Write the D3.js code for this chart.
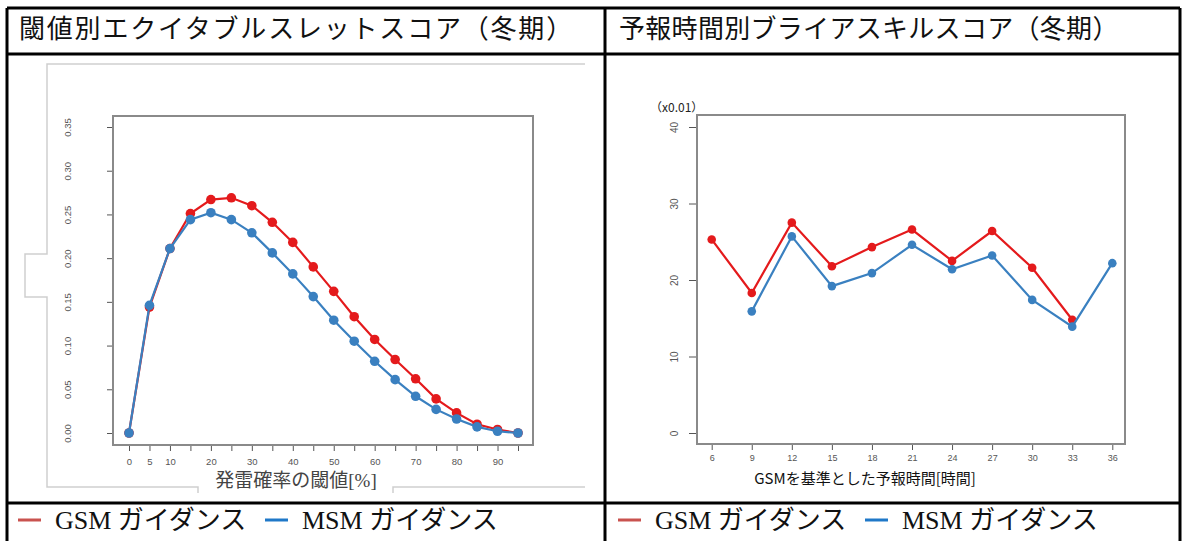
<!DOCTYPE html>
<html>
<head>
<meta charset="utf-8">
<script src="https://cdn.jsdelivr.net/npm/d3@7"></script>
<style>
  body { margin: 0; background: #fff; }
  svg { display: block; }
  .tick line { stroke: #555; }
  .tick text { fill: #555; font-family: "Liberation Sans", Arial, sans-serif; }
</style>
</head>
<body>
<svg id="chart"></svg>
<script>
// ---- data ----
const panelTitles = ['閾値別エクイタブルスレットスコア（冬期）', '予報時間別ブライアスキルスコア（冬期）'];
const seriesNames = ['GSM ガイダンス', 'MSM ガイダンス'];

const thresholds = [0, 5, 10, 15, 20, 25, 30, 35, 40, 45, 50, 55, 60, 65, 70, 75, 80, 85, 90, 95];
const etsGSM = [0, 0.144, 0.211, 0.251, 0.267, 0.269, 0.260, 0.241, 0.218, 0.190, 0.162, 0.133, 0.107, 0.084, 0.062, 0.039, 0.023, 0.010, 0.004, 0.0];
const etsMSM = [0, 0.146, 0.211, 0.244, 0.252, 0.244, 0.229, 0.206, 0.182, 0.156, 0.129, 0.105, 0.082, 0.061, 0.042, 0.027, 0.016, 0.007, 0.002, 0.0];
const leftYTicks = [0, 0.05, 0.10, 0.15, 0.20, 0.25, 0.30, 0.35];
const leftXLabels = [0, 5, 10, 20, 30, 40, 50, 60, 70, 80, 90];
const leftXTitle = '発雷確率の閾値[%]';

const leadTimes = [6, 9, 12, 15, 18, 21, 24, 27, 30, 33, 36];
const bssGSM = [25.3, 18.3, 27.5, 21.8, 24.3, 26.6, 22.5, 26.4, 21.6, 14.8, null];
const bssMSM = [null, 15.9, 25.7, 19.2, 20.9, 24.6, 21.4, 23.2, 17.4, 13.9, 22.2];
const rightYTicks = [0, 10, 20, 30, 40];
const rightXTitle = 'GSMを基準とした予報時間[時間]';
const rightUnit = '（x0.01）';

const colors = ['#e41a1c', '#3a80c0'];

// ---- setup ----
const W = 1183, H = 541;
const svg = d3.select('#chart').attr('width', W).attr('height', H);
svg.append('rect').attr('width', W).attr('height', H).attr('fill', '#fff');

const serif = '"Liberation Serif", "Times New Roman", "Noto Sans CJK JP", serif';
const cjk = '"Noto Sans CJK JP", sans-serif';

// table frame
const frame = svg.append('g').attr('stroke', '#000').attr('stroke-width', 3).attr('fill', 'none');
[[7, 8, 1180, 8], [7, 54, 1180, 54], [7, 503, 1180, 503],
 [7, 8, 7, 541], [605, 8, 605, 541], [1180, 8, 1180, 541]].forEach(l => {
    frame.append('line').attr('x1', l[0]).attr('y1', l[1]).attr('x2', l[2]).attr('y2', l[3]);
});

// panel titles
svg.selectAll('text.title')
    .data(panelTitles)
    .enter()
    .append('text')
    .attr('class', 'title')
    .attr('x', (d, i) => i === 0 ? 19 : 619)
    .attr('y', 38)
    .style('font-family', serif)
    .style('font-size', '26px')
    .style('letter-spacing', (d, i) => i === 0 ? '1.8px' : '0.3px')
    .attr('fill', '#111')
    .text(d => d);

// legends
[6, 606].forEach(ox => {
    seriesNames.forEach((name, i) => {
        const lx = ox + (i === 0 ? 12 : 259);
        svg.append('line')
            .attr('x1', lx).attr('x2', lx + 23)
            .attr('y1', 520).attr('y2', 520)
            .attr('stroke', i === 0 ? '#c9524f' : '#1f78c8')
            .attr('stroke-width', 3);
        svg.append('text')
            .attr('x', lx + 37).attr('y', 529)
            .style('font-family', serif)
            .style('font-size', '26px')
            .attr('fill', '#111')
            .text(name);
    });
});

// ---- left chart ----
{
    // faint outline of the pasted image
    svg.append('path')
        .attr('d', 'M585,64 H47 V254 H25 V297 H47 V487 H198 V493 M393,493 V487 H585')
        .attr('fill', 'none').attr('stroke', '#cfcfcf').attr('stroke-width', 1.5);

    const x = d3.scaleLinear().domain([0, 95]).range([129, 518]);
    const y = d3.scaleLinear().domain([0, 0.35]).range([433, 127]);
    const box = {x0: 113, x1: 533, y0: 116, y1: 445};

    const yAxis = d3.axisLeft(y).tickValues(leftYTicks).tickSize(6).tickFormat(d3.format('.2f'));
    const yg = svg.append('g').attr('transform', `translate(${box.x0},0)`).call(yAxis);
    yg.select('.domain').remove();
    yg.selectAll('.tick text')
        .attr('x', null).attr('dy', null)
        .attr('transform', 'translate(-45,0) rotate(-90)')
        .attr('text-anchor', 'middle')
        .attr('dy', '0.35em')
        .style('font-size', '9.5px');

    const xAxis = d3.axisBottom(x).tickValues(thresholds).tickSize(6)
        .tickFormat(d => leftXLabels.includes(d) ? d : '');
    const xg = svg.append('g').attr('transform', `translate(0,${box.y1})`).call(xAxis);
    xg.select('.domain').remove();
    xg.selectAll('.tick text').attr('y', 13).style('font-size', '9.5px');

    svg.append('rect')
        .attr('x', box.x0).attr('y', box.y0)
        .attr('width', box.x1 - box.x0).attr('height', box.y1 - box.y0)
        .attr('fill', 'none').attr('stroke', '#8a8a8a').attr('stroke-width', 2);

    svg.append('text')
        .attr('x', 296).attr('y', 487)
        .attr('text-anchor', 'middle')
        .style('font-family', serif)
        .style('font-size', '19px')
        .attr('fill', '#444')
        .text(leftXTitle);

    [etsGSM, etsMSM].forEach((vals, k) => {
        const pts = thresholds.map((t, i) => ({x: t, y: vals[i]}));
        const line = d3.line().x(d => x(d.x)).y(d => y(d.y));
        svg.append('path').datum(pts)
            .attr('d', line).attr('fill', 'none')
            .attr('stroke', colors[k]).attr('stroke-width', 2.2);
        svg.append('g').selectAll('circle')
            .data(pts).enter().append('circle')
            .attr('cx', d => x(d.x)).attr('cy', d => y(d.y))
            .attr('r', 4.8).attr('fill', colors[k]);
    });
}

// ---- right chart ----
{
    const x = d3.scaleLinear().domain([6, 36]).range([711.7, 1112.3]);
    const y = d3.scaleLinear().domain([0, 40]).range([433, 127]);
    const box = {x0: 697, x1: 1125, y0: 115, y1: 444};

    const yAxis = d3.axisLeft(y).tickValues(rightYTicks).tickSize(8);
    const yg = svg.append('g').attr('transform', `translate(${box.x0},0)`).call(yAxis);
    yg.select('.domain').remove();
    yg.selectAll('.tick text')
        .attr('x', null).attr('dy', null)
        .attr('transform', 'translate(-23,0) rotate(-90)')
        .attr('text-anchor', 'middle')
        .attr('dy', '0.35em')
        .style('font-size', '10px');

    const xAxis = d3.axisBottom(x).tickValues(leadTimes).tickSize(5);
    const xg = svg.append('g').attr('transform', `translate(0,${box.y1 + 1})`).call(xAxis);
    xg.select('.domain').remove();
    xg.selectAll('.tick text').attr('y', 10).style('font-size', '9px');

    svg.append('rect')
        .attr('x', box.x0).attr('y', box.y0)
        .attr('width', box.x1 - box.x0).attr('height', box.y1 - box.y0)
        .attr('fill', 'none').attr('stroke', '#8a8a8a').attr('stroke-width', 2);

    svg.append('text')
        .attr('x', 650).attr('y', 112)
        .style('font-family', cjk)
        .style('font-size', '12px')
        .attr('fill', '#222')
        .text(rightUnit);

    svg.append('text')
        .attr('x', 865).attr('y', 484)
        .attr('text-anchor', 'middle')
        .style('font-family', cjk)
        .style('font-size', '15px')
        .attr('fill', '#111')
        .text(rightXTitle);

    [bssGSM, bssMSM].forEach((vals, k) => {
        const pts = leadTimes.map((t, i) => ({x: t, y: vals[i]})).filter(d => d.y != null);
        const line = d3.line().x(d => x(d.x)).y(d => y(d.y));
        svg.append('path').datum(pts)
            .attr('d', line).attr('fill', 'none')
            .attr('stroke', colors[k]).attr('stroke-width', 2.2);
        svg.append('g').selectAll('circle')
            .data(pts).enter().append('circle')
            .attr('cx', d => x(d.x)).attr('cy', d => y(d.y))
            .attr('r', 4.3).attr('fill', colors[k]);
    });
}
</script>
</body>
</html>
